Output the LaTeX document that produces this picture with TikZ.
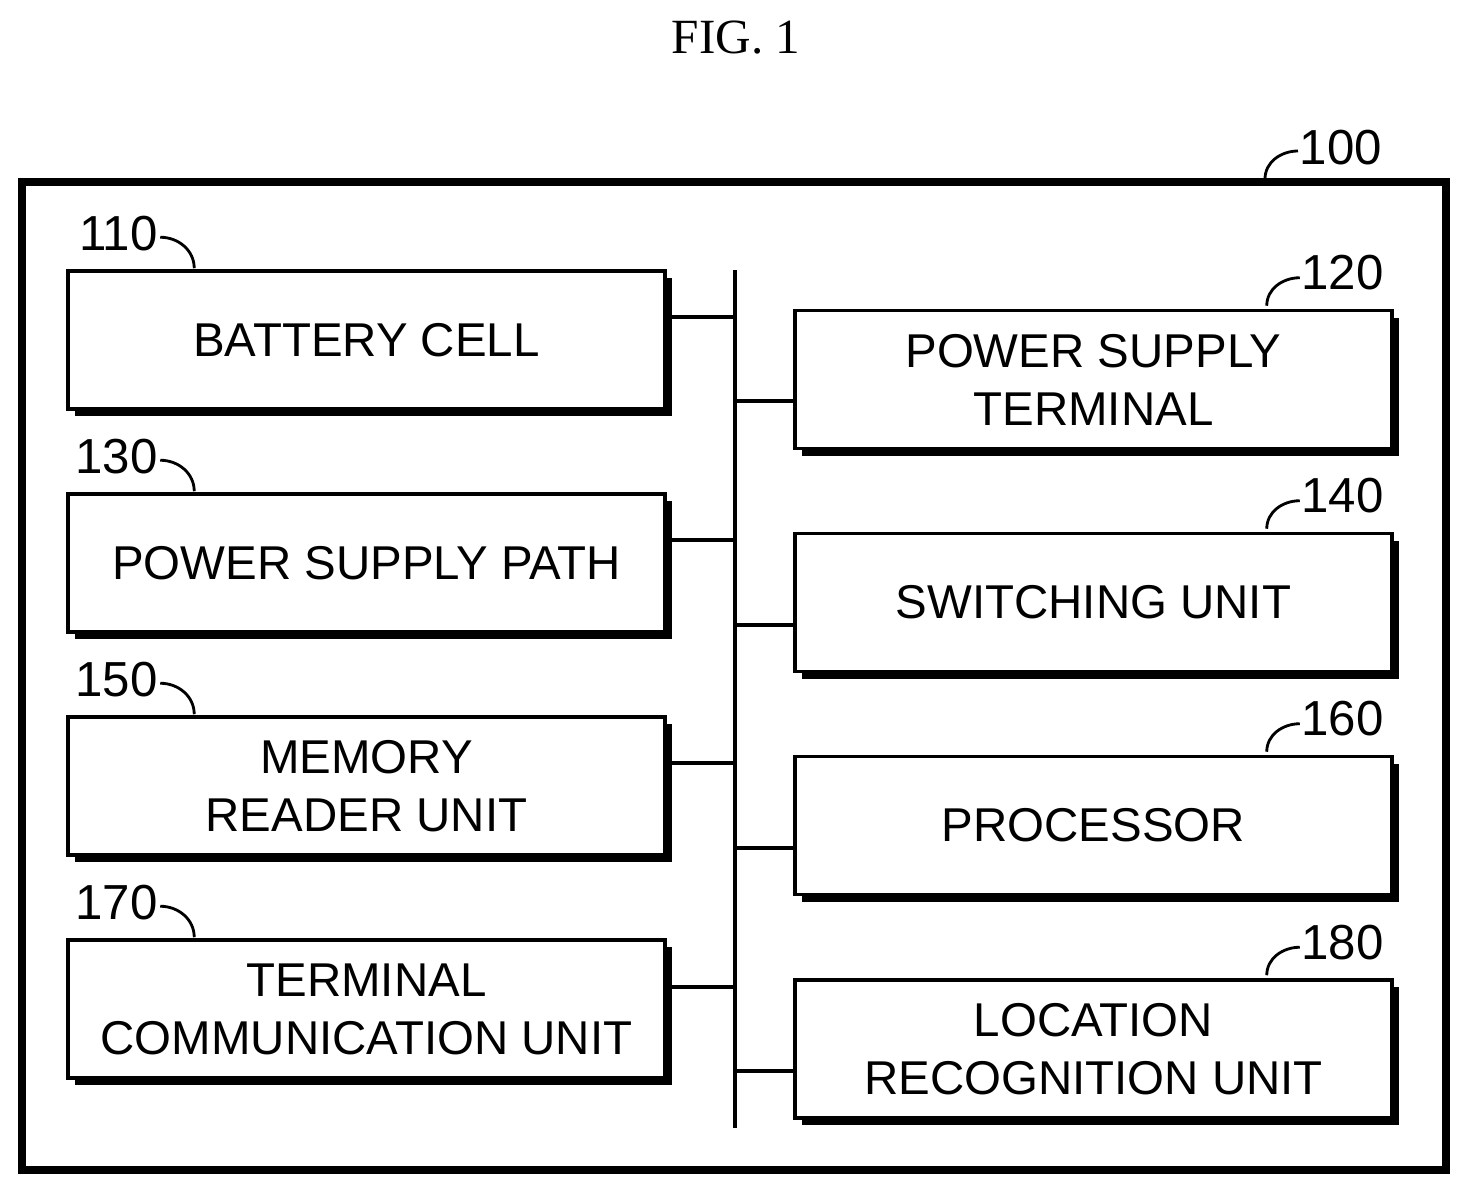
\documentclass[tikz,border=0pt]{standalone}
\usepackage{fontspec}
\setmainfont{Liberation Sans}
\newfontfamily\figfont{Liberation Serif}
\tikzset{
  blk/.style={draw,line width=1pt,fill=white,minimum width=5.97cm,minimum height=1.38cm,
    align=center,font=\fontsize{13.5}{16.5}\selectfont,
    preaction={fill=black,transform canvas={xshift=0.07cm,yshift=-0.07cm}}},
  num/.style={font=\fontsize{14}{16}\selectfont,inner sep=0pt},
}
\begin{document}
\begin{tikzpicture}
\useasboundingbox (0,0) rectangle (14.68,-11.95);
\node[font=\figfont\fontsize{14}{16}\selectfont] (fig) at (7.36,-0.38) {FIG. 1};
\node[draw,line width=2pt,minimum width=14.24cm,minimum height=9.88cm] (outer) at (7.34,-6.76) {};
% left column
\node[blk] (cell) at (3.665,-3.40) {BATTERY CELL};
\node[blk] (path) at (3.665,-5.63) {POWER SUPPLY PATH};
\node[blk] (mem) at (3.665,-7.86) {MEMORY\\READER UNIT};
\node[blk] (comm) at (3.665,-10.09) {TERMINAL\\COMMUNICATION UNIT};
% right column
\node[blk] (term) at (10.935,-3.795) {POWER SUPPLY\\TERMINAL};
\node[blk] (sw) at (10.935,-6.025) {SWITCHING UNIT};
\node[blk] (proc) at (10.935,-8.255) {PROCESSOR};
\node[blk] (loc) at (10.935,-10.49) {LOCATION\\RECOGNITION UNIT};
% bus
\coordinate (bt) at (7.35,-2.70);
\coordinate (bb) at (7.35,-11.28);
\draw[line width=1pt] (bt) -- (bb);
\foreach \n/\y in {cell/3.17,path/5.40,mem/7.63,comm/9.87}
  \draw[line width=1pt] (\n.east|-0,-\y) -- (7.35,-\y);
\foreach \n/\y in {term/4.01,sw/6.25,proc/8.48,loc/10.71}
  \draw[line width=1pt] (7.35,-\y) -- (\n.west|-0,-\y);
% reference numerals
\foreach \n/\t in {cell/110,path/130,mem/150,comm/170}{
  \node[num,anchor=east] at ([xshift=0.92cm,yshift=0.36cm]\n.north west) {\t};
  \draw[line width=0.8pt] ([xshift=0.94cm,yshift=0.32cm]\n.north west) to[out=0,in=90] ([xshift=1.28cm,yshift=0.01cm]\n.north west);
}
\foreach \n/\t in {term/120,sw/140,proc/160,loc/180}{
  \node[num,anchor=west] at ([xshift=-0.93cm,yshift=0.36cm]\n.north east) {\t};
  \draw[line width=0.8pt] ([xshift=-1.27cm,yshift=0.03cm]\n.north east) to[out=90,in=180] ([xshift=-0.94cm,yshift=0.31cm]\n.north east);
}
\node[num,anchor=west] at (12.99,-1.48) {100};
\draw[line width=0.8pt] (12.65,-1.79) to[out=90,in=180] (12.98,-1.51);
\end{tikzpicture}
\end{document}
